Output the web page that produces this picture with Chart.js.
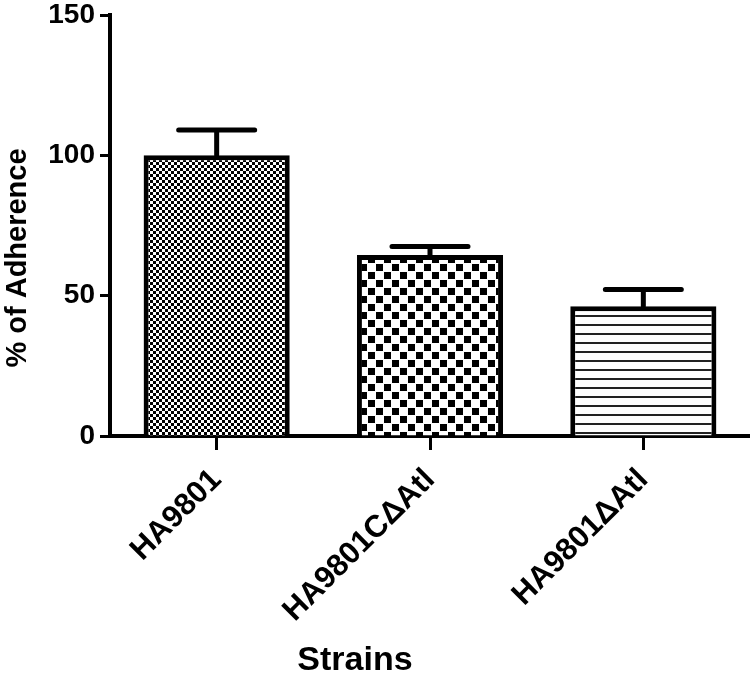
<!DOCTYPE html>
<html>
<head>
<meta charset="utf-8">
<script src="https://cdn.jsdelivr.net/npm/chart.js@4"></script>
<style>
  body { margin: 0; background: #fff; }
</style>
</head>
<body>
<canvas id="adherenceChart" width="750" height="675"></canvas>
<script>
// Adherence data (% of wild type)
var strains = ['HA9801', 'HA9801CΔAtl', 'HA9801ΔAtl'];
var adherence = [100, 64.5, 46.2];
var adherenceErr = [9, 3, 6];
var yTicks = [0, 50, 100, 150];

var fontFamily = '"Liberation Sans", Arial, sans-serif';

// fill patterns like the Prism bars
function checker(cell, fill) {
    var c = document.createElement('canvas');
    c.width = c.height = cell * 2;
    var g = c.getContext('2d');
    g.fillStyle = '#fff';
    g.fillRect(0, 0, cell * 2, cell * 2);
    g.fillStyle = '#000';
    g.fillRect(0, 0, fill, fill);
    g.fillRect(cell, cell, fill, fill);
    return g.createPattern(c, 'repeat');
}

function hLines(gap, thick) {
    var c = document.createElement('canvas');
    c.width = 10;
    c.height = gap;
    var g = c.getContext('2d');
    g.fillStyle = '#fff';
    g.fillRect(0, 0, 10, gap);
    g.fillStyle = '#222';
    g.fillRect(0, 0, 10, thick);
    return g.createPattern(c, 'repeat');
}

var barFills = [checker(3, 3), checker(8, 7), hLines(9, 2)];

// error bars, upper side only
var errorBars = {
    id: 'errorBars',
    afterDatasetsDraw: function (chart) {
        var meta = chart.getDatasetMeta(0);
        var y = chart.scales.y;
        var ctx = chart.ctx;
        ctx.save();
        ctx.strokeStyle = '#000';
        ctx.lineWidth = 5;
        ctx.lineCap = 'round';
        meta.data.forEach(function (bar, i) {
            var top = y.getPixelForValue(adherence[i] + adherenceErr[i]);
            var half = bar.width * 0.26;
            ctx.beginPath();
            ctx.moveTo(bar.x, bar.y);
            ctx.lineTo(bar.x, top);
            ctx.moveTo(bar.x - half, top);
            ctx.lineTo(bar.x + half, top);
            ctx.stroke();
        });
        ctx.restore();
    }
};

// axis titles
var axisTitles = {
    id: 'axisTitles',
    afterDraw: function (chart) {
        var ctx = chart.ctx;
        ctx.save();
        ctx.fillStyle = '#000';
        ctx.textAlign = 'center';
        ctx.textBaseline = 'alphabetic';
        ctx.font = 'bold 34px ' + fontFamily;
        ctx.fillText('Strains', 355, 670);
        ctx.translate(26, 258);
        ctx.rotate(-Math.PI / 2);
        ctx.font = 'bold 29px ' + fontFamily;
        ctx.fillText('% of Adherence', 0, 0);
        ctx.restore();
    }
};

var ctx = document.getElementById('adherenceChart').getContext('2d');
var adherenceChart = new Chart(ctx, {
    type: 'bar',
    data: {
        labels: strains,
        datasets: [{
            data: adherence,
            backgroundColor: barFills,
            borderColor: '#000',
            borderWidth: 5,
            barPercentage: 0.685,
            categoryPercentage: 1
        }]
    },
    options: {
        responsive: false,
        animation: false,
        layout: { padding: { top: 15, right: 0, bottom: 0, left: 0 } },
        plugins: {
            legend: { display: false },
            tooltip: { enabled: false }
        },
        scales: {
            x: {
                border: { color: '#000', width: 4 },
                grid: {
                    offset: false,
                    drawOnChartArea: false,
                    tickLength: 14,
                    tickWidth: 3,
                    tickColor: '#000'
                },
                ticks: {
                    color: '#000',
                    font: { family: fontFamily, size: 31, weight: 'bold', lineHeight: 1 },
                    minRotation: 45,
                    maxRotation: 45,
                    padding: 14
                },
                afterFit: function (s) { s.height = 239; }
            },
            y: {
                min: 0,
                max: 150,
                border: { color: '#000', width: 4 },
                grid: {
                    drawOnChartArea: false,
                    tickLength: 10,
                    tickWidth: 3,
                    tickColor: '#000'
                },
                afterBuildTicks: function (s) {
                    s.ticks = yTicks.map(function (v) { return { value: v }; });
                },
                ticks: {
                    color: '#000',
                    font: { family: fontFamily, size: 28, weight: 'bold', lineHeight: 1 },
                    padding: 5
                },
                afterFit: function (s) {
                    s.width = 110;
                    s.paddingTop = 0;
                    s.paddingBottom = 0;
                }
            }
        }
    },
    plugins: [errorBars, axisTitles]
});
</script>
</body>
</html>
